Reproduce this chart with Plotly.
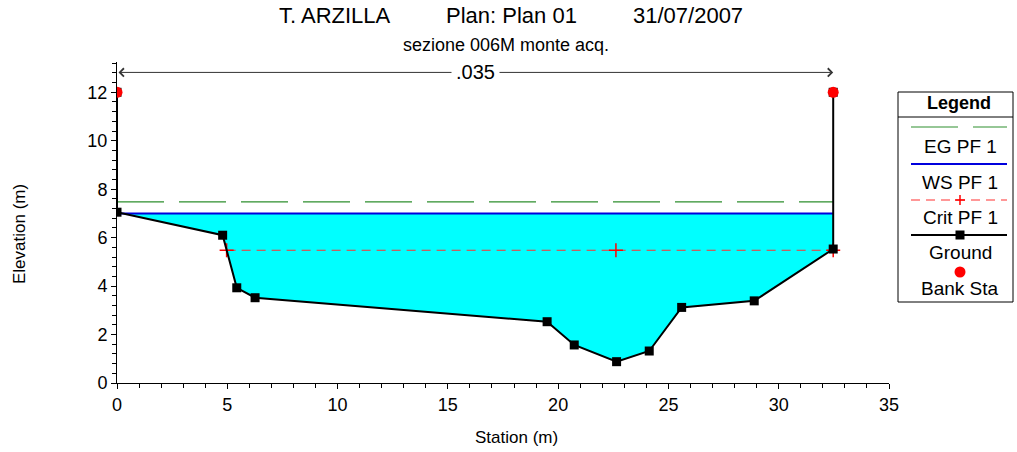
import plotly.graph_objects as go

# ---------------- data ----------------
ground_x = [0.0, 0.0, 4.79, 5.43, 6.26, 19.5, 20.73, 22.65, 24.13, 25.6, 28.89, 32.47, 32.47]
ground_y = [12.0, 7.05, 6.10, 3.93, 3.52, 2.53, 1.57, 0.88, 1.32, 3.12, 3.39, 5.53, 12.0]
bank_x = [0.0, 32.47]
bank_y = [12.0, 12.0]
ws_x = [0.0, 32.47]
ws_elev = 7.0
eg_x = [0.0, 32.47]
eg_elev = 7.48
crit_x = [4.97, 22.62, 32.47]
crit_elev = 5.48
manning_label = ".035"
manning_x = [0.0, 32.47]
manning_y = 12.82
x_ticks = [0, 5, 10, 15, 20, 25, 30, 35]
y_ticks = [0, 2, 4, 6, 8, 10, 12]

FONT = "Liberation Sans, Arial, sans-serif"

fig = go.Figure()

# water fill polygon (ground interior + WS level)
fill_x = ground_x[1:-1] + [ws_x[1], ws_x[0]]
fill_y = ground_y[1:-1] + [ws_elev, ws_elev]
fig.add_trace(go.Scatter(x=fill_x, y=fill_y, fill="toself", fillcolor="#00FFFF",
                         line=dict(width=0), mode="lines", hoverinfo="skip", showlegend=False))

# EG
fig.add_trace(go.Scatter(x=eg_x, y=[eg_elev] * len(eg_x), mode="lines",
                         line=dict(color="#2E8F2E", width=1.2, dash="47px,15px"), showlegend=False))
# WS
fig.add_trace(go.Scatter(x=ws_x, y=[ws_elev] * len(ws_x), mode="lines",
                         line=dict(color="#0000DD", width=2), showlegend=False))
# Crit
fig.add_trace(go.Scatter(x=[crit_x[0], crit_x[-1]], y=[crit_elev, crit_elev], mode="lines",
                         line=dict(color="#FF3030", width=1.2, dash="9px,6px"), showlegend=False))
fig.add_trace(go.Scatter(x=crit_x, y=[crit_elev] * len(crit_x), mode="markers",
                         marker=dict(symbol="cross-thin", size=10, line=dict(color="#FF0000", width=1.5)),
                         showlegend=False))
# Ground
fig.add_trace(go.Scatter(x=ground_x, y=ground_y, mode="lines+markers",
                         line=dict(color="black", width=2),
                         marker=dict(symbol="square", size=9, color="black"), showlegend=False))
# Bank stations
fig.add_trace(go.Scatter(x=bank_x, y=bank_y, mode="markers",
                         marker=dict(symbol="circle", size=11, color="#FF0000"), showlegend=False))

# ---------------- layout ----------------
L, R, T, B = 117, 889, 62, 383
W, H = 1017, 452


def px(xp):
    return (xp - L) / (R - L)


def py(yp):
    return (B - yp) / (B - T)


annotations = []
shapes = []

# Manning's n arrow
annotations.append(dict(x=manning_x[1], y=manning_y, ax=manning_x[0], ay=manning_y,
                        xref="x", yref="y", axref="x", ayref="y", text="",
                        showarrow=True, arrowside="end+start", arrowhead=4, startarrowhead=4,
                        arrowsize=1.6, startarrowsize=1.6, arrowwidth=1, arrowcolor="#333333",
                        standoff=0, startstandoff=0))
annotations.append(dict(x=(manning_x[0] + manning_x[1]) / 2, y=manning_y, xref="x", yref="y",
                        text=manning_label, showarrow=False, bgcolor="white",
                        font=dict(family=FONT, size=20, color="black"), borderpad=4))

# Titles
for txt, xc in [("T. ARZILLA", 335), ("Plan: Plan 01", 511), ("31/07/2007", 688)]:
    annotations.append(dict(x=px(xc), y=py(16), xref="paper", yref="paper", text=txt,
                            showarrow=False, xanchor="center", yanchor="middle",
                            font=dict(family=FONT, size=22, color="black")))
annotations.append(dict(x=px(506), y=py(45), xref="paper", yref="paper", text="sezione 006M monte acq.",
                        showarrow=False, xanchor="center", yanchor="middle",
                        font=dict(family=FONT, size=18, color="black")))
# Axis titles
annotations.append(dict(x=px(516), y=py(437), xref="paper", yref="paper", text="Station (m)",
                        showarrow=False, xanchor="center", yanchor="middle",
                        font=dict(family=FONT, size=17, color="black")))
annotations.append(dict(x=px(19), y=py(234), xref="paper", yref="paper", text="Elevation (m)",
                        showarrow=False, xanchor="center", yanchor="middle", textangle=-90,
                        font=dict(family=FONT, size=17, color="black")))

# Legend box
shapes.append(dict(type="rect", xref="paper", yref="paper", x0=px(898), x1=px(1013),
                   y0=py(302), y1=py(92), line=dict(color="black", width=1)))
shapes.append(dict(type="line", xref="paper", yref="paper", x0=px(898), x1=px(1013),
                   y0=py(117), y1=py(117), line=dict(color="black", width=1)))
annotations.append(dict(x=px(959), y=py(103), xref="paper", yref="paper", text="<b>Legend</b>",
                        showarrow=False, xanchor="center", yanchor="middle",
                        font=dict(family=FONT, size=18, color="black")))
lx0, lx1, lxc = 911, 1007, 960
# EG sample
shapes.append(dict(type="line", xref="paper", yref="paper", x0=px(lx0), x1=px(lx1),
                   y0=py(127), y1=py(127), line=dict(color="#2E8F2E", width=1.2, dash="47px,15px")))
# WS sample
shapes.append(dict(type="line", xref="paper", yref="paper", x0=px(lx0), x1=px(lx1),
                   y0=py(164), y1=py(164), line=dict(color="#0000DD", width=2)))
# Crit sample
shapes.append(dict(type="line", xref="paper", yref="paper", x0=px(lx0), x1=px(lx1),
                   y0=py(200), y1=py(200), line=dict(color="#FF3030", width=1.2, dash="9px,6px")))
shapes.append(dict(type="line", xref="paper", yref="paper", x0=px(lxc - 5), x1=px(lxc + 5),
                   y0=py(200), y1=py(200), line=dict(color="#FF0000", width=1.5)))
shapes.append(dict(type="line", xref="paper", yref="paper", x0=px(lxc), x1=px(lxc),
                   y0=py(195), y1=py(205), line=dict(color="#FF0000", width=1.5)))
# Ground sample
shapes.append(dict(type="line", xref="paper", yref="paper", x0=px(lx0), x1=px(lx1),
                   y0=py(235), y1=py(235), line=dict(color="black", width=2)))
shapes.append(dict(type="rect", xref="paper", yref="paper", x0=px(lxc - 4.5), x1=px(lxc + 4.5),
                   y0=py(239.5), y1=py(230.5), fillcolor="black", line=dict(width=0)))
# Bank sample
shapes.append(dict(type="circle", xref="paper", yref="paper", x0=px(lxc - 5.5), x1=px(lxc + 5.5),
                   y0=py(277.5), y1=py(266.5), fillcolor="#FF0000", line=dict(width=0)))

for txt, yc in [("EG PF 1", 146), ("WS PF 1", 182), ("Crit PF 1", 217), ("Ground", 253), ("Bank Sta", 288)]:
    annotations.append(dict(x=px(960), y=py(yc), xref="paper", yref="paper", text=txt,
                            showarrow=False, xanchor="center", yanchor="middle",
                            font=dict(family=FONT, size=19, color="black")))

fig.update_layout(
    width=W, height=H,
    margin=dict(l=L, r=W - R, t=T, b=H - B, pad=0),
    paper_bgcolor="white", plot_bgcolor="white",
    showlegend=False,
    font=dict(family=FONT, size=17, color="black"),
    annotations=annotations, shapes=shapes,
    xaxis=dict(range=[0, 35], tickvals=x_ticks, ticktext=[str(v) for v in x_ticks],
               showgrid=False, zeroline=False, showline=True, linecolor="black", linewidth=1,
               ticks="outside", ticklen=5, tickcolor="black",
               minor=dict(dtick=1, ticks="outside", ticklen=4, tickcolor="black", showgrid=False),
               tickfont=dict(family=FONT, size=18)),
    yaxis=dict(range=[0, 13.25], tickvals=y_ticks, ticktext=[str(v) for v in y_ticks],
               showgrid=False, zeroline=False, showline=True, linecolor="black", linewidth=1,
               ticks="outside", ticklen=5, tickcolor="black",
               minor=dict(dtick=0.4, ticks="outside", ticklen=4, tickcolor="black", showgrid=False),
               tickfont=dict(family=FONT, size=18)),
)

fig.write_html("out.html")
